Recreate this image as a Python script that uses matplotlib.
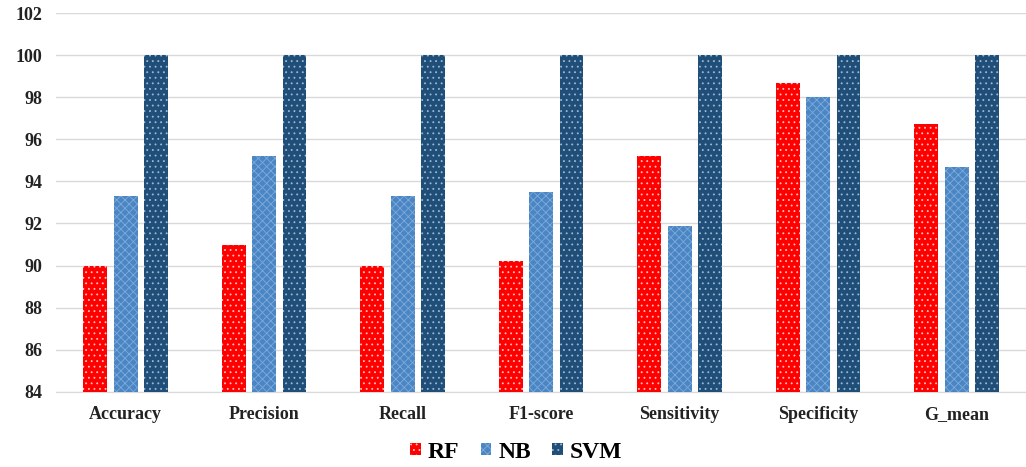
import matplotlib.pyplot as plt
import numpy as np

metrics = ["Accuracy", "Precision", "Recall", "F1-score", "Sensitivity", "Specificity", "G_mean"]
rf = [90.0, 91.0, 90.0, 90.2, 95.2, 98.7, 96.75]
nb = [93.33, 95.2, 93.33, 93.5, 91.9, 98.0, 94.7]
svm = [100, 100, 100, 100, 100, 100, 100]

plt.rcParams['font.family'] = ['Liberation Serif', 'DejaVu Serif']
plt.rcParams['font.weight'] = 'bold'
plt.rcParams['hatch.linewidth'] = 0.6

fig = plt.figure(figsize=(10.26, 4.67), dpi=100)
ax = fig.add_axes([0.055, 0.161, 0.945, 0.811])

x = np.arange(len(metrics))
w = 0.172
step = 0.219

series = [
    (rf, "RF", "#ff0000", "#ffc0c0", "..."),
    (nb, "NB", "#4a86c4", "#80aada", "xxxx"),
    (svm, "SVM", "#1f4e79", "#a0b8d0", "..."),
]
for i, (vals, name, col, hcol, hatch) in enumerate(series):
    ax.bar(x + (i - 1) * step, np.array(vals) - 84, w, bottom=84, color=col,
           edgecolor=hcol, linewidth=0, hatch=hatch, label=name, zorder=3)

ax.set_ylim(84, 102)
ax.set_yticks(np.arange(84, 103, 2))
ax.set_xlim(-0.5, 6.5)
ax.set_xticks(x)
ax.set_xticklabels(metrics)
ax.grid(axis='y', color='#d9d9d9', linewidth=1, zorder=0)
for s in ['left', 'right', 'top']:
    ax.spines[s].set_visible(False)
ax.spines['bottom'].set_color('#d9d9d9')
ax.tick_params(axis='both', length=0, labelsize=13, colors='#222222')
ax.tick_params(axis='x', pad=10)
ax.tick_params(axis='y', pad=10)

handles, labels = ax.get_legend_handles_labels()
fig.legend(handles, labels, loc='center', bbox_to_anchor=(0.503, 0.032), ncol=3,
           frameon=False, fontsize=17, handlelength=0.45, handleheight=0.45,
           handletextpad=0.3, columnspacing=0.9, borderpad=0.0)

fig.savefig("out.png", dpi=100)
